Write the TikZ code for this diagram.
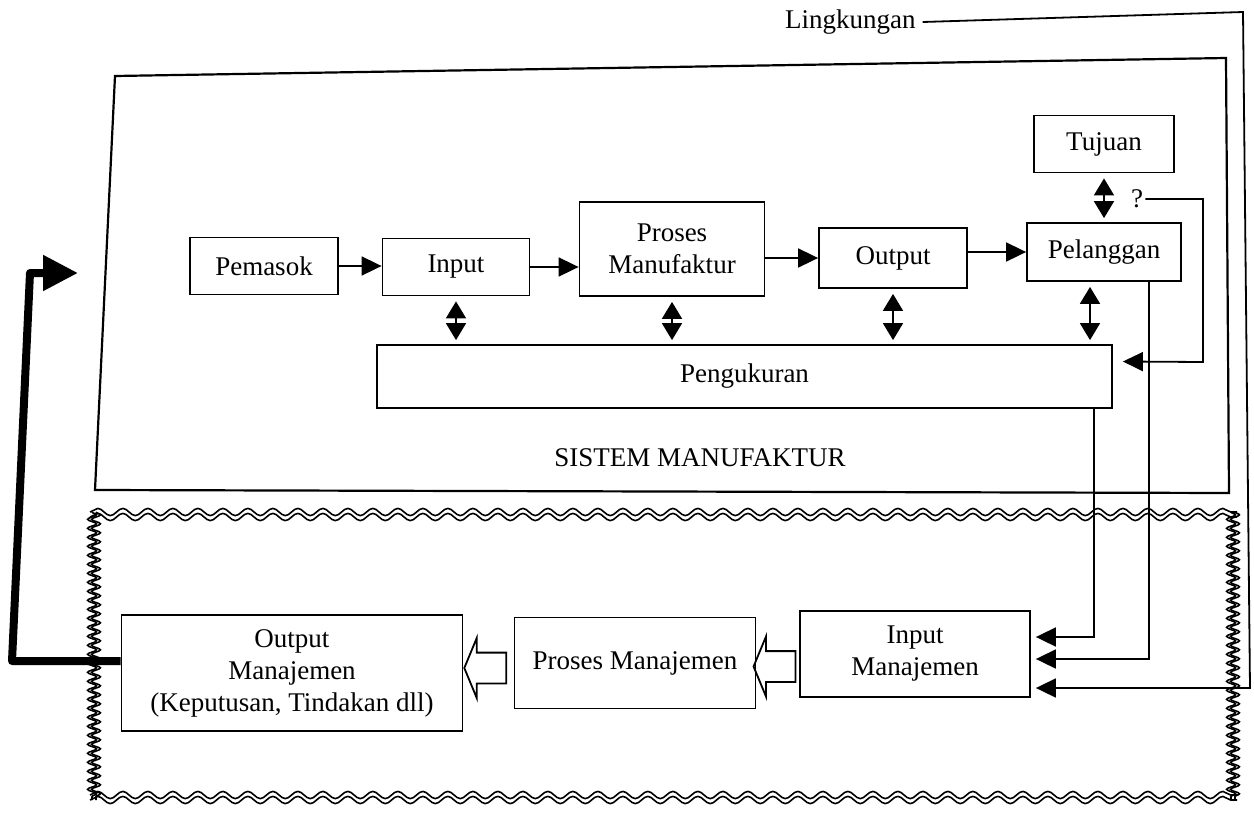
\documentclass[tikz,border=0pt]{standalone}
\usepackage{fontspec}
\setmainfont{Liberation Serif}
\usetikzlibrary{arrows.meta}
\usetikzlibrary{shapes.arrows}
\usetikzlibrary{calc}
\usetikzlibrary{decorations.pathmorphing}
\begin{document}
\begin{tikzpicture}[x=0.5pt, y=-0.5pt,
    font=\fontsize{13.5}{16}\selectfont,
    kotak/.style={draw, line width=0.9pt, align=center, inner sep=0pt},
    panah/.style={line width=0.9pt, -{Triangle[length=10pt,width=9.5pt]}},
    duapanah/.style={line width=0.9pt, {Triangle[length=8.5pt,width=10pt]}-{Triangle[length=8.5pt,width=10pt]}, shorten <=2.5pt, shorten >=2pt},
    kosong/.style={draw, line width=0.9pt, single arrow, shape border rotate=180, minimum height=21pt, inner xsep=0pt, inner ysep=7.25pt, single arrow head extend=7.25pt, single arrow tip angle=135},
    ombakh/.style={decorate, decoration={snake, segment length=12.5pt, amplitude=1.8pt}, line width=0.8pt},
    ombakv/.style={decorate, decoration={snake, segment length=4.5pt, amplitude=2.2pt}, line width=0.8pt}]
    \useasboundingbox (0,0) rectangle (1254,814);

    % Sistem manufaktur
    \draw[line width=1.1pt] (115,76) -- (1226,58) -- (1229,493) -- (95,490) -- cycle;
    \node (sistem) at (700,458) {SISTEM MANUFAKTUR};
    \node[kotak, minimum width=74pt, minimum height=28.5pt] (pemasok) at (264,266) {Pemasok};
    \node[kotak, minimum width=73.5pt, minimum height=28.5pt] (input) at (456,267) {Input};
    \node[kotak, minimum width=92.5pt, minimum height=47pt] (proses) at (672,249) {Proses\\Manufaktur};
    \node[kotak, minimum width=74pt, minimum height=30pt] (output) at (893,258) {Output};
    \node[kotak, minimum width=77pt, minimum height=29pt] (pelanggan) at (1104,252) {Pelanggan};
    \node[kotak, minimum width=70pt, minimum height=28.5pt] (tujuan) at (1104,144) {Tujuan};
    \node[kotak, minimum width=367.5pt, minimum height=31.5pt] (ukur) at (744.5,376.5) {Pengukuran};
    \node[inner sep=1pt] (tanya) at (1137,199) {?};

    % Sistem manajemen
    \node[kotak, minimum width=115pt, minimum height=43pt] (inmj) at (915,654) {Input\\Manajemen};
    \node[kotak, minimum width=120.5pt, minimum height=45.5pt] (prmj) at (635,663) {Proses Manajemen};
    \node[kotak, minimum width=170.5pt, minimum height=58pt] (outmj) at (292,673) {Output\\Manajemen\\(Keputusan, Tindakan dll)};
    \node[kosong] (hol1) at ($(inmj.west)!0.5!(prmj.east)+(0,8)$) {};
    \node[kosong] (hol2) at ($(prmj.west)!0.5!(outmj.east)$) {};

    % Lingkungan
    \node[anchor=west] (ling) at (778,22) {Lingkungan};

    % batas bergelombang
    \draw[ombakh] (90,512) -- (1237,512);
    \draw[ombakh] (90,517) -- (1237,517);
    \draw[ombakh] (90,800) -- (1237,800);
    \draw[ombakh] (90,795) -- (1237,795);
    \draw[ombakv] (92,512) -- (92,800);
    \draw[ombakv] (96,512) -- (96,800);
    \draw[ombakv] (1235,512) -- (1235,800);
    \draw[ombakv] (1231,512) -- (1231,800);

    % alur utama
    \draw[panah] (pemasok.east) -- (pemasok.east -| input.west);
    \draw[panah] (input.east) -- (input.east -| proses.west);
    \draw[panah] (proses.east |- output) -- (output.west);
    \draw[panah] (output.east |- pelanggan) -- (pelanggan.west);

    % ke dan dari pengukuran
    \draw[duapanah] (input.south) -- (input.south |- ukur.north);
    \draw[duapanah] (proses.south) -- (proses.south |- ukur.north);
    \draw[duapanah] (output.south) -- (output.south |- ukur.north);
    \draw[duapanah] ($(pelanggan.south)+(-14,0)$) coordinate (p1) -- (p1 |- ukur.north);
    \draw[duapanah] (tujuan.south) -- (pelanggan.north);
    \draw[panah] (tanya.east) -| (1203,362) -- ($(ukur.east)+(10,-15)$);

    % umpan balik ke manajemen
    \draw[panah] ($(ukur.south east)+(-19,0)$) |- ($(inmj.east)+(5,-17)$);
    \draw[panah] ($(pelanggan.south east)+(-33,0)$) |- ($(inmj.east)+(5,5)$);
    \draw[panah] (ling.east) -- (1243,12) -- (1250,688) -- ($(inmj.east)+(5,34)$);

    % tindakan kembali ke sistem
    \draw[line width=4pt, line join=round, -{Triangle[length=17.5pt,width=17pt]}] ($(outmj.west)+(0,-12)$) -- (12,661) -- (30,273) -- (78,273);
\end{tikzpicture}
\end{document}
